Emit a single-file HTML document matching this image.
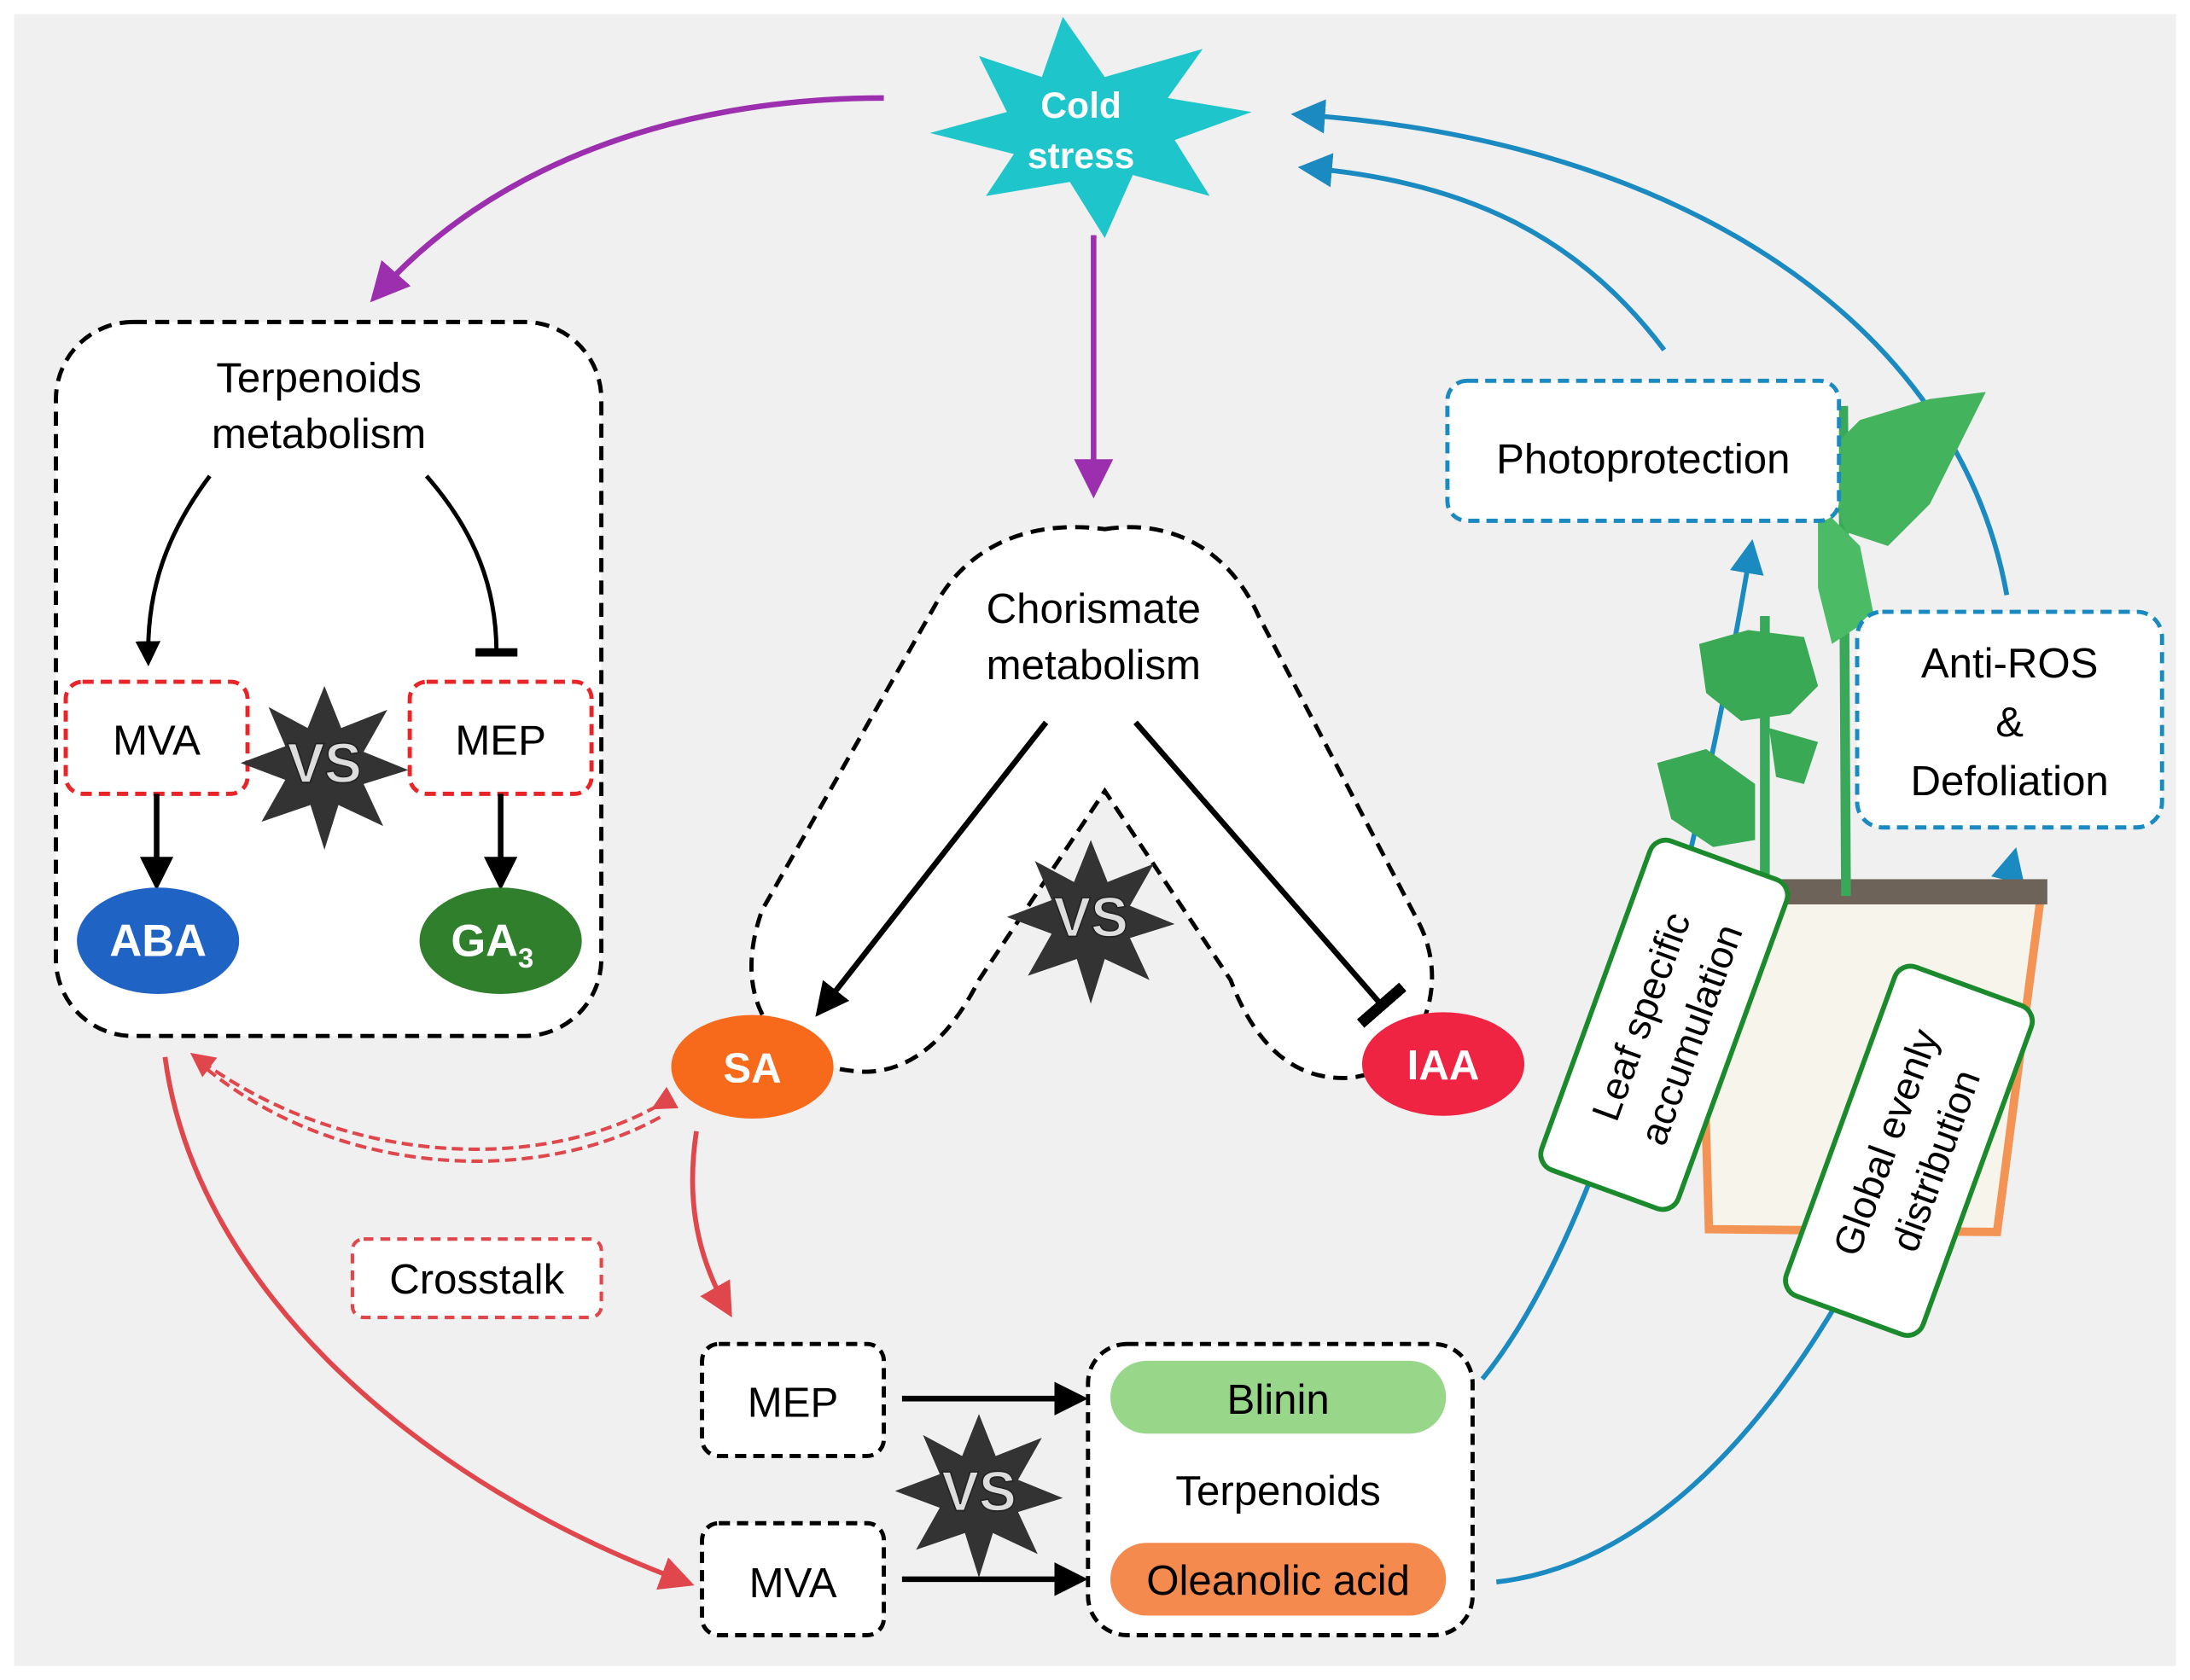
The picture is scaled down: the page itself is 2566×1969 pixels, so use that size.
<!DOCTYPE html>
<html><head><meta charset="utf-8"><style>
html,body{margin:0;padding:0;background:#fff;}
svg{display:block;}
text{font-family:"Liberation Sans",Arial,sans-serif;}
</style></head><body>
<svg width="2566" height="1969" viewBox="0 0 1566 1200" preserveAspectRatio="none" xmlns="http://www.w3.org/2000/svg">
<defs>
<marker id="ap" markerWidth="7" markerHeight="7" refX="5" refY="3.5" orient="auto" markerUnits="strokeWidth"><path d="M0,0 L7,3.5 L0,7 Z" fill="#9b2fae"/></marker>
<marker id="ab" markerWidth="6" markerHeight="6" refX="4" refY="3" orient="auto" markerUnits="strokeWidth"><path d="M0,0 L6,3 L0,6 Z" fill="#000"/></marker>
<marker id="ar" markerWidth="7" markerHeight="7" refX="5" refY="3.5" orient="auto" markerUnits="strokeWidth"><path d="M0,0 L7,3.5 L0,7 Z" fill="#e0474c"/></marker>
<marker id="abl" markerWidth="7" markerHeight="7" refX="5" refY="3.5" orient="auto" markerUnits="strokeWidth"><path d="M0,0 L7,3.5 L0,7 Z" fill="#1b8ac0"/></marker>
<marker id="tb" markerWidth="2" markerHeight="10" refX="1" refY="5" orient="auto" markerUnits="strokeWidth"><rect x="0" y="0" width="2" height="10" fill="#000"/></marker>
</defs>
<rect x="10" y="10" width="1546" height="1180" fill="#f0f0f0"/>

<polygon points="760,12 790,55 860,35 835,70 895,80 840,100 865,140 810,125 790,170 765,130 705,140 725,110 665,95 720,80 700,40 745,55" fill="#1ec6cc"/>
<text x="773" y="84" font-size="26" font-weight="bold" fill="#fff" text-anchor="middle">Cold</text>
<text x="773" y="120" font-size="26" font-weight="bold" fill="#fff" text-anchor="middle">stress</text>

<path d="M632,70 C480,70 350,120 270,210" fill="none" stroke="#9b2fae" stroke-width="4" marker-end="url(#ap)"/>
<path d="M782,168 L782,348" fill="none" stroke="#9b2fae" stroke-width="4" marker-end="url(#ap)"/>

<path d="M1190,250 C1130,170 1050,130 935,120" fill="none" stroke="#1b8ac0" stroke-width="3.5" marker-end="url(#abl)"/>
<path d="M1435,425 C1400,230 1200,100 930,82" fill="none" stroke="#1b8ac0" stroke-width="3.5" marker-end="url(#abl)"/>
<path d="M1060,985 C1130,900 1200,700 1252,392" fill="none" stroke="#1b8ac0" stroke-width="3.5" marker-end="url(#abl)"/>
<path d="M1070,1130 C1250,1110 1380,850 1440,612" fill="none" stroke="#1b8ac0" stroke-width="3.5" marker-end="url(#abl)"/>

<rect x="40" y="230" width="390" height="510" rx="55" fill="#fff" stroke="#000" stroke-width="3" stroke-dasharray="10,6"/>
<text x="228" y="280" font-size="30" text-anchor="middle">Terpenoids</text>
<text x="228" y="320" font-size="30" text-anchor="middle">metabolism</text>
<path d="M150,340 C120,380 105,420 106,470" fill="none" stroke="#000" stroke-width="3" marker-end="url(#ab)"/>
<path d="M305,340 C340,380 355,420 355,466" fill="none" stroke="#000" stroke-width="3" marker-end="url(#tb)"/>
<rect x="47" y="487" width="130" height="80" rx="12" fill="#fff" stroke="#e8262a" stroke-width="3" stroke-dasharray="8,5"/>
<text x="112" y="539" font-size="30" text-anchor="middle">MVA</text>
<rect x="293" y="487" width="130" height="80" rx="12" fill="#fff" stroke="#e8262a" stroke-width="3" stroke-dasharray="8,5"/>
<text x="358" y="539" font-size="30" text-anchor="middle">MEP</text>
<g transform="translate(232,545)">
<polygon points="0,-55 12,-25 45,-38 28,-8 60,5 28,15 42,45 10,30 0,62 -10,30 -45,42 -28,12 -60,0 -28,-12 -40,-40 -12,-25" fill="#333"/>
<text x="0" y="14" font-size="40" font-weight="bold" fill="#ddd" stroke="#222" text-anchor="middle">VS</text>
</g>
<path d="M112,567 L112,628" stroke="#000" stroke-width="4" marker-end="url(#ab)"/>
<path d="M358,567 L358,628" stroke="#000" stroke-width="4" marker-end="url(#ab)"/>
<ellipse cx="113" cy="672" rx="58" ry="38" fill="#1f63c4"/>
<text x="113" y="683" font-size="32" font-weight="bold" fill="#fff" text-anchor="middle">ABA</text>
<ellipse cx="358" cy="672" rx="58" ry="38" fill="#2f7f2c"/>
<text x="352" y="683" font-size="32" font-weight="bold" fill="#fff" text-anchor="middle">GA<tspan font-size="20" dy="8">3</tspan></text>

<path d="M790,378 C840,370 880,395 900,440 L1015,660 C1040,710 1010,770 960,770 C920,770 895,740 880,700 L790,565 L700,700 C680,740 650,770 610,765 C560,760 520,720 545,650 L670,430 C690,395 730,370 790,378 Z" fill="#fff" stroke="#000" stroke-width="3" stroke-dasharray="10,6"/>
<text x="782" y="445" font-size="30" text-anchor="middle">Chorismate</text>
<text x="782" y="485" font-size="30" text-anchor="middle">metabolism</text>
<path d="M748,516 L588,720" stroke="#000" stroke-width="4" marker-end="url(#ab)"/>
<path d="M812,516 L988,718" stroke="#000" stroke-width="4" marker-end="url(#tb)"/>
<g transform="translate(780,655)">
<polygon points="0,-55 12,-25 45,-38 28,-8 60,5 28,15 42,45 10,30 0,62 -10,30 -45,42 -28,12 -60,0 -28,-12 -40,-40 -12,-25" fill="#333"/>
<text x="0" y="14" font-size="40" font-weight="bold" fill="#ddd" stroke="#222" text-anchor="middle">VS</text>
</g>
<ellipse cx="538" cy="762" rx="58" ry="37" fill="#f7691b"/>
<text x="538" y="773" font-size="30" font-weight="bold" fill="#fff" text-anchor="middle">SA</text>
<ellipse cx="1032" cy="760" rx="58" ry="37" fill="#ef2443"/>
<text x="1032" y="771" font-size="30" font-weight="bold" fill="#fff" text-anchor="middle">IAA</text>

<path d="M470,790 C380,840 240,830 140,755" fill="none" stroke="#e0474c" stroke-width="2.5" stroke-dasharray="8,4" marker-end="url(#ar)" marker-start="url(#ar)"/>
<path d="M472,798 C382,848 240,840 146,762" fill="none" stroke="#e0474c" stroke-width="2.5" stroke-dasharray="8,4"/>
<path d="M118,755 C140,920 300,1060 490,1130" fill="none" stroke="#e0474c" stroke-width="3.5" marker-end="url(#ar)"/>
<path d="M498,808 C490,860 500,900 520,935" fill="none" stroke="#e0474c" stroke-width="3.5" marker-end="url(#ar)"/>
<rect x="252" y="885" width="178" height="56" rx="8" fill="#fff" stroke="#e0474c" stroke-width="2.5" stroke-dasharray="7,5"/>
<text x="341" y="924" font-size="30" text-anchor="middle">Crosstalk</text>

<rect x="502" y="960" width="130" height="80" rx="12" fill="#fff" stroke="#000" stroke-width="3" stroke-dasharray="8,5"/>
<text x="567" y="1012" font-size="30" text-anchor="middle">MEP</text>
<rect x="502" y="1088" width="130" height="80" rx="12" fill="#fff" stroke="#000" stroke-width="3" stroke-dasharray="8,5"/>
<text x="567" y="1141" font-size="30" text-anchor="middle">MVA</text>
<path d="M645,999 L770,999" stroke="#000" stroke-width="4" marker-end="url(#ab)"/>
<path d="M645,1128 L770,1128" stroke="#000" stroke-width="4" marker-end="url(#ab)"/>
<g transform="translate(700,1065)">
<polygon points="0,-55 12,-25 45,-38 28,-8 60,5 28,15 42,45 10,30 0,62 -10,30 -45,42 -28,12 -60,0 -28,-12 -40,-40 -12,-25" fill="#333"/>
<text x="0" y="14" font-size="40" font-weight="bold" fill="#ddd" stroke="#222" text-anchor="middle">VS</text>
</g>
<rect x="778" y="960" width="275" height="208" rx="28" fill="#fff" stroke="#000" stroke-width="3" stroke-dasharray="8,5"/>
<rect x="794" y="972" width="240" height="52" rx="26" fill="#98d68a"/>
<text x="914" y="1010" font-size="30" text-anchor="middle">Blinin</text>
<text x="914" y="1075" font-size="30" text-anchor="middle">Terpenoids</text>
<rect x="794" y="1102" width="240" height="52" rx="26" fill="#f58a4e"/>
<text x="914" y="1139" font-size="30" text-anchor="middle">Oleanolic acid</text>

<!-- plant -->
<polygon points="1215,640 1460,635 1428,880 1222,878" fill="#f7f4ec" stroke="#f39455" stroke-width="6"/>
<rect x="1212" y="628" width="252" height="18" fill="#6d6358"/>
<path d="M1320,640 L1318,290 M1262,640 L1262,440" stroke="#3aa85a" stroke-width="7" fill="none"/>
<path d="M1300,330 L1330,300 L1380,285 L1420,280 L1400,320 L1380,360 L1350,390 L1320,380 Z" fill="#43b35d"/>
<path d="M1300,360 L1330,390 L1340,440 L1310,460 L1300,420 Z" fill="#4cbb66"/>
<path d="M1215,460 L1250,450 L1290,455 L1300,490 L1280,510 L1245,515 L1220,495 Z" fill="#39a955"/>
<path d="M1185,545 L1220,535 L1255,560 L1255,600 L1225,605 L1195,585 Z" fill="#39a955"/>
<path d="M1265,520 L1300,530 L1290,560 L1270,555 Z" fill="#39a955"/>

<rect x="1035" y="272" width="280" height="100" rx="14" fill="#fff" stroke="#1b8ac0" stroke-width="3" stroke-dasharray="8,5"/>
<text x="1175" y="338" font-size="30" text-anchor="middle">Photoprotection</text>
<rect x="1328" y="437" width="218" height="154" rx="18" fill="#fff" stroke="#1b8ac0" stroke-width="3" stroke-dasharray="8,5"/>
<text x="1437" y="484" font-size="30" text-anchor="middle">Anti-ROS</text>
<text x="1437" y="526" font-size="30" text-anchor="middle">&amp;</text>
<text x="1437" y="568" font-size="30" text-anchor="middle">Defoliation</text>

<g transform="translate(1190,732) rotate(-70)">
<rect x="-125" y="-52" width="250" height="104" rx="12" fill="#fff" stroke="#1b8a2c" stroke-width="3.5"/>
<text x="0" y="-8" font-size="28" text-anchor="middle">Leaf specific</text>
<text x="0" y="30" font-size="28" text-anchor="middle">accumulation</text>
</g>
<g transform="translate(1365,822) rotate(-70)">
<rect x="-125" y="-52" width="250" height="104" rx="12" fill="#fff" stroke="#1b8a2c" stroke-width="3.5"/>
<text x="0" y="-8" font-size="28" text-anchor="middle">Global evenly</text>
<text x="0" y="30" font-size="28" text-anchor="middle">distribution</text>
</g>
</svg>
</body></html>
